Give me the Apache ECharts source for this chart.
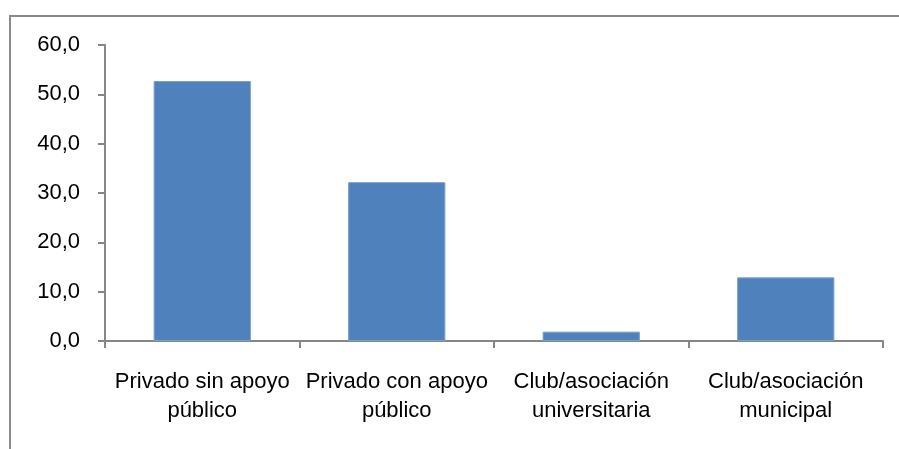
<!DOCTYPE html>
<html>
<head>
<meta charset="utf-8">
<script src="https://cdn.jsdelivr.net/npm/echarts@6/dist/echarts.min.js"></script>
<style>
  html, body { margin: 0; padding: 0; background: #fff; }
  #chart { width: 899px; height: 449px; }
</style>
</head>
<body>
<div id="chart"></div>
<script>
// categorías y valores (%)
var categories = ['Privado sin apoyo\npúblico', 'Privado con apoyo\npúblico', 'Club/asociación\nuniversitaria', 'Club/asociación\nmunicipal'];
var values = [52.7, 32.2, 1.9, 12.9];
var yTicks = [0, 10, 20, 30, 40, 50, 60];

var myChart = echarts.init(document.getElementById('chart'));
var option = {
  animation: false,
  backgroundColor: '#fff',
  textStyle: { fontFamily: '"Liberation Sans", Arial, sans-serif' },
  graphic: [
    // marco gris del gráfico
    {
      type: 'rect',
      shape: { x: 10, y: 16, width: 1000, height: 1000 },
      style: { fill: 'none', stroke: '#8a8a8a', lineWidth: 2 },
      silent: true
    }
  ],
  grid: { left: 105, right: 16, top: 45, bottom: 108 },
  xAxis: {
    type: 'category',
    data: categories,
    boundaryGap: true,
    axisLine: { lineStyle: { color: '#868686', width: 2 } },
    axisTick: { show: true, length: 7, alignWithLabel: false, lineStyle: { color: '#868686', width: 2 } },
    axisLabel: { color: '#000', fontSize: 22, lineHeight: 29, margin: 26, interval: 0 }
  },
  yAxis: {
    type: 'value',
    min: yTicks[0],
    max: yTicks[yTicks.length - 1],
    interval: 10,
    splitLine: { show: false },
    axisLine: { show: true, lineStyle: { color: '#868686', width: 2 } },
    axisTick: { show: true, length: 7, lineStyle: { color: '#868686', width: 2 } },
    axisLabel: {
      color: '#000', fontSize: 22, margin: 25,
      formatter: function (v) { return v.toFixed(1).replace('.', ','); }
    }
  },
  series: [
    {
      type: 'bar',
      data: values,
      barWidth: '50%',
      itemStyle: { color: '#4F81BD', borderColor: '#7aa0cf', borderWidth: 1 }
    }
  ]
};
option && myChart.setOption(option);
</script>
</body>
</html>
